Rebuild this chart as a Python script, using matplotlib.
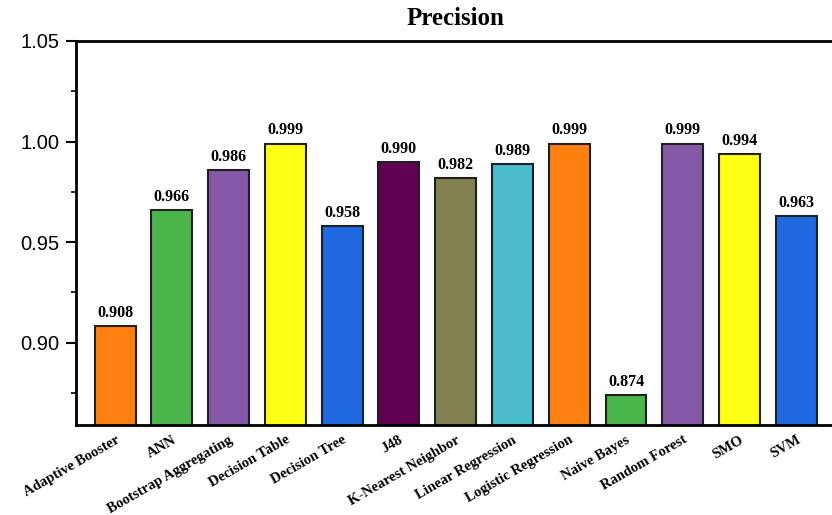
import matplotlib.pyplot as plt
import numpy as np

models = ['Adaptive Booster', 'ANN', 'Bootstrap Aggregating', 'Decision Table',
          'Decision Tree', 'J48', 'K-Nearest Neighbor', 'Linear Regression',
          'Logistic Regression', 'Naive Bayes', 'Random Forest', 'SMO', 'SVM']
precision = [0.908, 0.966, 0.986, 0.999, 0.958, 0.990, 0.982, 0.989,
             0.999, 0.874, 0.999, 0.994, 0.963]
colors = ['#FF8010', '#4AB54A', '#8558A8', '#FFFF14', '#2068E0', '#600050',
          '#808050', '#4ABBCC', '#FF8010', '#4AB54A', '#8558A8', '#FFFF14', '#2068E0']

serif = ['Liberation Serif', 'DejaVu Serif']
plt.rcParams['font.family'] = ['Liberation Sans', 'DejaVu Sans']

fig = plt.figure(figsize=(8.32, 5.15), dpi=100)
ax = fig.add_axes([0.0913, 0.1748, 0.9087, 0.7456])

x = np.arange(len(models))
bars = ax.bar(x, precision, width=0.72, color=colors, edgecolor='#202020', linewidth=1.5)

# value labels above bars
for xi, v in zip(x, precision):
    ax.text(xi, v + 0.0025, '%.3f' % v, ha='center', va='bottom',
            fontsize=11.5, fontweight='bold', family=serif)

ax.set_ylim(0.859, 1.05)
ax.set_xlim(-0.69, 12.63)
ax.set_yticks([0.90, 0.95, 1.00, 1.05])
ax.set_yticklabels(['0.90', '0.95', '1.00', '1.05'], fontsize=14.5)
ax.set_yticks([0.875, 0.925, 0.975, 1.025], minor=True)
ax.tick_params(axis='y', which='major', length=7, width=1.5, direction='out', pad=5)
ax.tick_params(axis='y', which='minor', length=3.5, width=1.2, direction='out')

ax.set_xticks(x)
ax.set_xticklabels(models, rotation=30, ha='right', rotation_mode='anchor',
                   fontsize=10.5, fontweight='bold', family=serif)
ax.tick_params(axis='x', length=0, pad=6)

for s in ['left', 'bottom', 'top']:
    ax.spines[s].set_linewidth(2)
ax.spines['right'].set_visible(False)

fig.text(0.547, 0.965, 'Precision', ha='center', va='center',
         fontsize=18, fontweight='bold', family=serif)

fig.savefig('out.png', dpi=100)
